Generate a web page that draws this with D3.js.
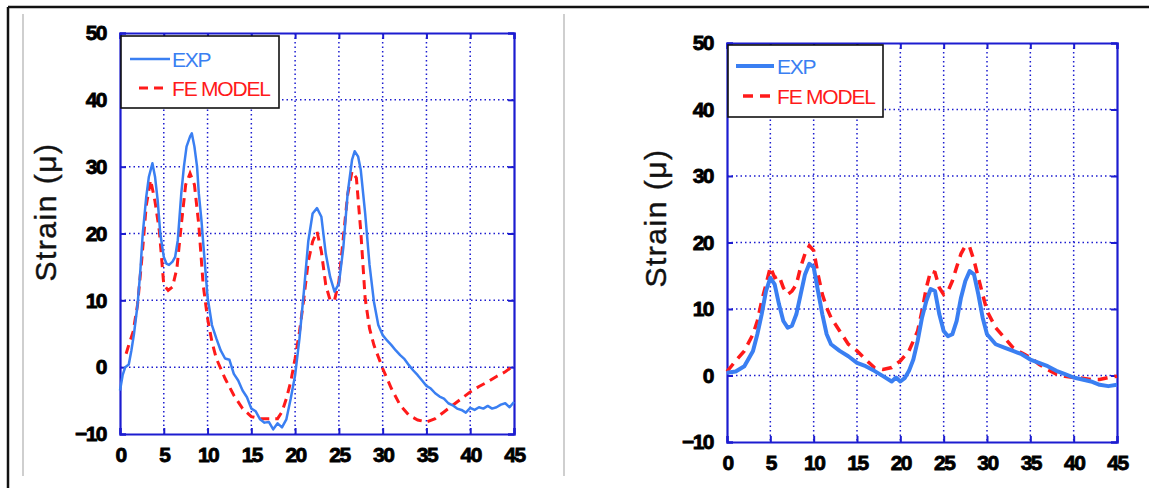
<!DOCTYPE html>
<html>
<head>
<meta charset="utf-8">
<script src="https://cdn.jsdelivr.net/npm/d3@7"></script>
<style>
  html, body { margin: 0; padding: 0; background: #fff; }
  svg { display: block; }
</style>
</head>
<body>
<svg id="chart" width="1149" height="488"></svg>
<script>
// Distance along the specimen (x) and measured / modelled strain (y)
const xTicks = [0, 5, 10, 15, 20, 25, 30, 35, 40, 45];
const yTicks = [-10, 0, 10, 20, 30, 40, 50];
const seriesNames = ["EXP", "FE MODEL"];
const yLabel = "Strain (\u03bc)";

// Left gauge
const leftExpX = [0, 0.3, 0.6, 1, 1.3, 1.6, 2, 2.3, 2.6, 3, 3.3, 3.7, 4, 4.3, 4.6, 5, 5.3, 5.6, 6, 6.3, 6.6, 7, 7.3, 7.6, 8, 8.2, 8.5, 8.8, 9, 9.3, 9.6, 10, 10.5, 11, 11.5, 12, 12.5, 13, 13.5, 14, 14.5, 15, 15.5, 16, 16.5, 17, 17.5, 18, 18.5, 19, 19.5, 20, 20.5, 21, 21.5, 22, 22.5, 23, 23.5, 24, 24.5, 25, 25.5, 26, 26.5, 26.8, 27.2, 27.5, 28, 28.5, 29, 29.5, 30, 30.5, 31, 31.5, 32, 32.5, 33, 33.5, 34, 34.5, 35, 35.5, 36, 36.5, 37, 37.5, 38, 38.5, 39, 39.5, 40, 40.5, 41, 41.5, 42, 42.5, 43, 43.5, 44, 44.5, 45];
const leftExpY = [-3.5, -1.2, 0, 0.4, 2.5, 5, 9.3, 14, 20, 25.5, 28.5, 30.5, 28.5, 25, 20, 16.5, 15.5, 15.3, 15.8, 16.5, 19, 26, 30, 33, 34.5, 35, 33, 30, 26, 22, 17, 10.5, 6.3, 4.3, 2.5, 1.3, 1.1, -1, -2, -3.5, -4.5, -6.2, -6.6, -7.8, -8.3, -8.2, -9.3, -8.4, -9, -7.8, -4.7, -1.2, 4.3, 11.3, 18.8, 23, 23.8, 22.5, 17, 13.5, 11.3, 12.5, 17.8, 26, 31, 32.3, 31.5, 29.5, 23, 15.3, 9.8, 6.3, 4.8, 4, 3.3, 2.5, 1.8, 1.2, 0.3, -0.5, -1.2, -2, -2.8, -3.2, -3.9, -4.4, -4.7, -5.4, -5.7, -6.2, -6.4, -6.8, -6.1, -6.4, -6, -6.2, -5.8, -6.2, -6, -5.6, -5.4, -6, -5.2];
const leftFeX = [0.7, 1, 1.5, 2, 2.5, 3, 3.5, 4, 4.5, 5, 5.5, 6, 6.5, 7, 7.5, 8, 8.5, 9, 9.5, 10, 10.5, 11, 12, 13, 14, 15, 16, 17, 18, 18.5, 19, 19.5, 20, 20.5, 21, 21.5, 22, 22.5, 23, 23.5, 24, 24.5, 25, 25.5, 26, 26.5, 27, 27.5, 28, 28.5, 29, 30, 31, 32, 33, 34, 35, 36, 37, 38, 39, 40, 41, 42, 43, 44, 45];
const leftFeY = [2, 3.3, 5.3, 9.3, 16.3, 24.2, 28, 24.8, 20.3, 12.3, 11.5, 12, 14.8, 21.3, 27.3, 29, 27.3, 21.3, 12.3, 7.3, 3.8, 1.3, -1.7, -4.2, -6.2, -7.4, -7.7, -7.7, -7.7, -6.7, -4.7, -2.2, 1.3, 5.3, 10.3, 15.8, 18.8, 20.3, 17.3, 12.3, 10, 10, 12.8, 19.3, 25.8, 29.3, 28.3, 20.3, 10.3, 5.8, 3.3, -0.2, -3.2, -5.7, -7.2, -7.9, -8.2, -7.7, -6.7, -5.7, -4.7, -3.7, -2.9, -2.2, -1.4, -0.7, 0.3];

// Right gauge
const rightExpX = [0, 1, 2, 3, 3.5, 4, 4.5, 5, 5.5, 6, 6.5, 7, 7.5, 8, 8.5, 9, 9.5, 10, 10.5, 11, 11.5, 12, 13, 14, 15, 16, 17, 18, 19, 19.5, 20, 20.5, 21, 21.5, 22, 22.5, 23, 23.5, 24, 24.5, 25, 25.5, 26, 26.5, 27, 27.5, 28, 28.5, 29, 29.5, 30, 31, 32, 33, 34, 35, 36, 37, 38, 39, 40, 41, 42, 43, 44, 45];
const rightExpY = [0.4, 0.6, 1.4, 3.7, 6.2, 9.2, 12.7, 14.7, 13.7, 10.7, 8.2, 7.2, 7.5, 9.2, 12.2, 15.2, 16.8, 16.3, 12.7, 9.2, 6.2, 4.7, 3.7, 2.9, 1.9, 1.4, 0.7, -0.1, -0.9, -0.3, -0.9, -0.4, 0.7, 2.4, 5.2, 8.7, 11.2, 13, 12.7, 9.2, 6.7, 5.9, 6.2, 8.2, 11.7, 14.2, 15.7, 15.2, 12.2, 8.7, 6.2, 4.7, 4.2, 3.7, 3.2, 2.4, 1.9, 1.4, 0.7, 0.2, -0.3, -0.6, -0.9, -1.4, -1.6, -1.4];
const rightFeX = [0, 1, 2, 3, 3.5, 4, 4.5, 5, 5.5, 6, 6.5, 7, 7.5, 8, 8.5, 9, 9.5, 10, 10.5, 11, 11.5, 12, 13, 14, 15, 16, 17, 18, 19, 20, 21, 21.5, 22, 22.5, 23, 23.5, 24, 24.5, 25, 25.5, 26, 26.5, 27, 27.5, 28, 28.5, 29, 29.5, 30, 31, 32, 33, 34, 35, 36, 37, 38, 39, 40, 41, 42, 43, 44, 45];
const rightFeY = [0.6, 2.2, 3.7, 6.2, 8.2, 11.2, 13.7, 16.3, 14.7, 15, 13.2, 12.2, 12.7, 13.7, 16.3, 18.3, 19.5, 18.8, 15.2, 12.2, 10.2, 8.7, 6.7, 4.7, 3.7, 2.4, 1.2, 0.9, 1.2, 2.2, 3.7, 5.2, 6.7, 9.7, 13.2, 15.7, 15.5, 13.2, 12.2, 12.7, 14.2, 16.3, 18.3, 19.5, 19.3, 17.3, 14.7, 12.2, 9.7, 7.2, 5.7, 4.2, 3.4, 2.7, 1.7, 0.9, 0.2, -0.1, -0.3, -0.4, -0.6, -0.6, -0.3, -0.1];

const BLUE_AXIS = "#1c1cd0";
const EXP_COLOR = "#3a7ff2";
const FE_COLOR = "#ff1a1a";
const FONT = "Liberation Sans, Arial, sans-serif";

const svg = d3.select("#chart");

// Page frame and separators
svg.append("line").attr("x1", 8).attr("x2", 1149).attr("y1", 7).attr("y2", 7)
  .attr("stroke", "#111").attr("stroke-width", 2.5);
svg.append("line").attr("x1", 8).attr("x2", 8).attr("y1", 7).attr("y2", 488)
  .attr("stroke", "#111").attr("stroke-width", 2.5);
[23, 564].forEach(x => {
  svg.append("line").attr("x1", x).attr("x2", x).attr("y1", 14).attr("y2", 476)
    .attr("stroke", "#cfcfcf").attr("stroke-width", 2);
});

const panels = [
  {
    left: 120, right: 514, top: 33, bottom: 434,
    exp: leftExpX.map((x, i) => [x, leftExpY[i]]),
    fe: leftFeX.map((x, i) => [x, leftFeY[i]]),
    expWidth: 2.5, feWidth: 3, dash: "9,6",
    labelPos: [45, 212],
    legend: { x: 121, y: 36, w: 158, h: 72, lineX1: 130, lineX2: 170, feX1: 139, feX2: 167, textX: 172, row1: 59, row2: 88, font: 21 }
  },
  {
    left: 727, right: 1117, top: 43, bottom: 442,
    exp: rightExpX.map((x, i) => [x, rightExpY[i]]),
    fe: rightFeX.map((x, i) => [x, rightFeY[i]]),
    expWidth: 4, feWidth: 3.5, dash: "10,7",
    labelPos: [655, 218],
    legend: { x: 728, y: 45, w: 155, h: 72, lineX1: 736, lineX2: 774, feX1: 743, feX2: 772, textX: 777, row1: 66, row2: 96, font: 21 }
  }
];

panels.forEach(p => {
  const x = d3.scaleLinear().domain([0, 45]).range([p.left, p.right]);
  const y = d3.scaleLinear().domain([-10, 50]).range([p.bottom, p.top]);
  const g = svg.append("g");

  // dotted grid
  const grid = g.append("g").attr("stroke", BLUE_AXIS).attr("stroke-width", 1.5)
    .attr("stroke-dasharray", "1.5,3");
  xTicks.slice(1, -1).forEach(t => {
    grid.append("line").attr("x1", x(t)).attr("x2", x(t)).attr("y1", p.top).attr("y2", p.bottom);
  });
  yTicks.slice(1, -1).forEach(t => {
    grid.append("line").attr("x1", p.left).attr("x2", p.right).attr("y1", y(t)).attr("y2", y(t));
  });

  // axes with inward ticks on all four sides
  const tickFont = g => g.selectAll("text")
    .attr("font-family", FONT)
    .attr("font-weight", "bold").attr("font-size", 21)
    .attr("letter-spacing", -1.5).attr("fill", "#000")
    .attr("stroke", "#000").attr("stroke-width", 0.8);
  const axisStyle = a => {
    a.select(".domain").attr("stroke", BLUE_AXIS).attr("stroke-width", 2.2);
    a.selectAll(".tick line").attr("stroke", BLUE_AXIS).attr("stroke-width", 2);
  };
  g.append("g").attr("transform", `translate(0,${p.bottom})`)
    .call(d3.axisBottom(x).tickValues(xTicks).tickSize(-6).tickPadding(13).tickFormat(d3.format("d")))
    .call(axisStyle).call(tickFont);
  g.append("g").attr("transform", `translate(0,${p.top})`)
    .call(d3.axisTop(x).tickValues(xTicks).tickSize(-6).tickFormat(""))
    .call(axisStyle);
  g.append("g").attr("transform", `translate(${p.left},0)`)
    .call(d3.axisLeft(y).tickValues(yTicks).tickSize(-6).tickPadding(14).tickFormat(d3.format("d")))
    .call(axisStyle).call(tickFont);
  g.append("g").attr("transform", `translate(${p.right},0)`)
    .call(d3.axisRight(y).tickValues(yTicks).tickSize(-6).tickFormat(""))
    .call(axisStyle);

  const line = d3.line().x(d => x(d[0])).y(d => y(d[1]));
  g.append("path").datum(p.fe).attr("d", line).attr("fill", "none")
    .attr("stroke", FE_COLOR).attr("stroke-width", p.feWidth)
    .attr("stroke-dasharray", p.dash);
  g.append("path").datum(p.exp).attr("d", line).attr("fill", "none")
    .attr("stroke", EXP_COLOR).attr("stroke-width", p.expWidth)
    .attr("stroke-linejoin", "round");

  // legend
  const L = p.legend;
  const lg = g.append("g");
  lg.append("rect").attr("x", L.x).attr("y", L.y).attr("width", L.w).attr("height", L.h)
    .attr("fill", "#fff").attr("stroke", "#111").attr("stroke-width", 1.6);
  lg.append("line").attr("x1", L.lineX1).attr("x2", L.lineX2).attr("y1", L.row1).attr("y2", L.row1)
    .attr("stroke", EXP_COLOR).attr("stroke-width", p.expWidth);
  lg.append("line").attr("x1", L.feX1).attr("x2", L.feX2).attr("y1", L.row2).attr("y2", L.row2)
    .attr("stroke", FE_COLOR).attr("stroke-width", p.feWidth).attr("stroke-dasharray", p.dash);
  [[seriesNames[0], L.row1, EXP_COLOR], [seriesNames[1], L.row2, FE_COLOR]].forEach(([t, yy, c]) => {
    lg.append("text").attr("x", L.textX).attr("y", yy).attr("dy", "0.36em")
      .attr("font-family", FONT).attr("font-size", L.font)
      .attr("letter-spacing", -1.2).attr("fill", c).text(t);
  });

  // y-axis title
  svg.append("text")
    .attr("transform", `translate(${p.labelPos[0]},${p.labelPos[1]}) rotate(-90)`)
    .attr("text-anchor", "middle").attr("dy", "0.36em")
    .attr("font-family", FONT).attr("font-size", 30)
    .attr("letter-spacing", 1.5).attr("fill", "#111")
    .attr("stroke", "#111").attr("stroke-width", 0.4).text(yLabel);
});
</script>
</body>
</html>
